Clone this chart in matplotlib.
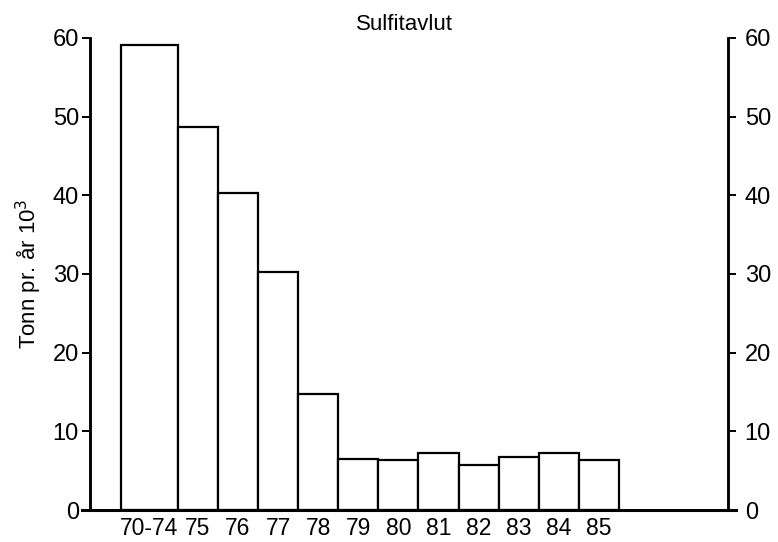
import matplotlib.pyplot as plt
import numpy as np

# data
categories = ["70-74", "75", "76", "77", "78", "79", "80", "81", "82", "83", "84", "85"]
values = [59.1, 48.7, 40.3, 30.2, 14.8, 6.5, 6.4, 7.3, 5.7, 6.7, 7.3, 6.4]
yticks = [0, 10, 20, 30, 40, 50, 60]

plt.rcParams["font.family"] = ["Liberation Sans", "DejaVu Sans"]

# first bar covers several years, so it is drawn wider
widths = np.array([1.42] + [1.0] * (len(categories) - 1))
lefts = np.concatenate([[0], np.cumsum(widths)[:-1]])
centers = lefts + widths / 2

fig = plt.figure(figsize=(7.78, 5.42), dpi=100)
ax = fig.add_axes([0.1157, 0.059, 0.82, 0.871])

ax.bar(
    lefts,
    values,
    width=widths,
    align="edge",
    color="white",
    edgecolor="black",
    linewidth=1.6,
)

ax.set_xlim(-0.77, 15.14)
ax.set_ylim(0, 60)

ax.set_xticks(centers)
ax.set_xticklabels(categories, fontsize=16.5)
ax.tick_params(axis="x", length=0, pad=5)

ax.set_yticks(yticks)
ax.tick_params(axis="y", labelsize=17, length=6, width=1.4, pad=2,
               direction="out")
ax.set_ylabel("Tonn pr. år 10$^3$", fontsize=16, labelpad=6)

ax2 = ax.twinx()
ax2.set_ylim(0, 60)
ax2.set_yticks(yticks)
ax2.tick_params(axis="y", labelsize=17, length=6, width=1.4, pad=6,
                direction="out")

for a in (ax, ax2):
    a.spines["top"].set_visible(False)
    for s in ("left", "right", "bottom"):
        a.spines[s].set_linewidth(1.8)
ax2.spines["bottom"].set_visible(False)

# baseline runs a little past both axes
ax.plot([-0.013, 1.013], [0, 0], transform=ax.transAxes, color="black",
        linewidth=2.2, clip_on=False)

fig.text(0.52, 0.954, "Sulfitavlut", ha="center", va="center", fontsize=16)

fig.savefig("out.png", dpi=100)
